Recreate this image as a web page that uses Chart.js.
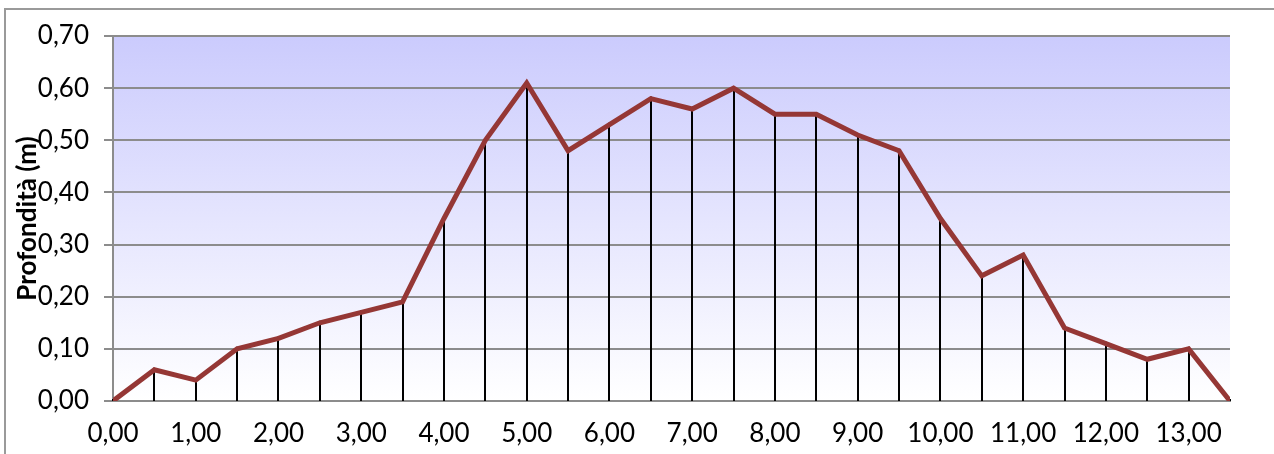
<!DOCTYPE html>
<html>
<head>
<meta charset="utf-8">
<script src="https://cdn.jsdelivr.net/npm/chart.js@4/dist/chart.umd.min.js"></script>
<style>
  html, body { margin: 0; padding: 0; background: #fff; }
  .frame {
    position: absolute; left: 4px; top: 8px; width: 1300px; height: 500px;
    border-left: 2px solid #9a9a9a; border-top: 2px solid #9a9a9a;
  }
  .chart-container { position: absolute; left: 0; top: 0; width: 1274px; height: 454px; }
</style>
</head>
<body>
<div class="frame"></div>
<div class="chart-container"><canvas id="profilo"></canvas></div>
<script>
// Distance (m) along the section and measured depth (m)
var distances = [0, 0.5, 1, 1.5, 2, 2.5, 3, 3.5, 4, 4.5, 5, 5.5, 6, 6.5, 7,
  7.5, 8, 8.5, 9, 9.5, 10, 10.5, 11, 11.5, 12, 12.5, 13, 13.5];
var depths = [0.00, 0.06, 0.04, 0.10, 0.12, 0.15, 0.17, 0.19, 0.35, 0.50, 0.61, 0.48, 0.53, 0.58, 0.56,
  0.60, 0.55, 0.55, 0.51, 0.48, 0.35, 0.24, 0.28, 0.14, 0.11, 0.08, 0.10, 0.00];
var xTicks = [0, 1, 2, 3, 4, 5, 6, 7, 8, 9, 10, 11, 12, 13];
var yTicks = [0, 0.1, 0.2, 0.3, 0.4, 0.5, 0.6, 0.7];
var yTitle = 'Profondità (m)';

function fmt(v) {
  return Number(v).toFixed(2).replace('.', ',');
}

// gradient background of the plot area
var plotBackground = {
  id: 'plotBackground',
  beforeDraw: function (chart) {
    var a = chart.chartArea;
    var ctx = chart.ctx;
    var g = ctx.createLinearGradient(0, a.top, 0, a.bottom);
    g.addColorStop(0, '#cbcbfd');
    g.addColorStop(1, '#ffffff');
    ctx.save();
    ctx.fillStyle = g;
    ctx.fillRect(a.left, a.top, a.right - a.left, a.bottom - a.top);
    ctx.restore();
  }
};

// vertical black lines from each point down to zero
var dropLines = {
  id: 'dropLines',
  beforeDatasetsDraw: function (chart) {
    var meta = chart.getDatasetMeta(0);
    var yScale = chart.scales.y;
    var base = yScale.getPixelForValue(0);
    var ctx = chart.ctx;
    ctx.save();
    ctx.strokeStyle = '#000';
    ctx.lineWidth = 2;
    meta.data.forEach(function (pt) {
      ctx.beginPath();
      ctx.moveTo(Math.round(pt.x), base);
      ctx.lineTo(Math.round(pt.x), pt.y - 2);
      ctx.stroke();
    });
    ctx.restore();
  }
};

var points = distances.map(function (d, i) { return { x: d, y: depths[i] }; });

var ctx = document.getElementById('profilo').getContext('2d');
new Chart(ctx, {
  type: 'line',
  data: {
    datasets: [{
      data: points,
      borderColor: '#953735',
      borderWidth: 5,
      pointRadius: 0,
      tension: 0,
      fill: false
    }]
  },
  plugins: [plotBackground, dropLines],
  options: {
    responsive: true,
    maintainAspectRatio: false,
    animation: false,
    layout: { padding: { top: 36, right: 44, left: 0, bottom: 0 } },
    plugins: { legend: { display: false }, tooltip: { enabled: false } },
    scales: {
      x: {
        type: 'linear',
        min: 0,
        max: 13.5,
        afterBuildTicks: function (scale) {
          scale.ticks = xTicks.map(function (v) { return { value: v }; });
        },
        afterFit: function (scale) { scale.height = 53; },
        ticks: {
          autoSkip: false,
          padding: 17,
          maxRotation: 0,
          color: '#000',
          font: { family: 'Lato', size: 26 },
          callback: function (v) { return fmt(v); }
        },
        grid: { display: false, drawTicks: false },
        border: { color: '#8c8c8c', width: 2 }
      },
      y: {
        min: 0,
        max: 0.7,
        afterBuildTicks: function (scale) {
          scale.ticks = yTicks.map(function (v) { return { value: v }; });
        },
        afterFit: function (scale) { scale.width = 113; },
        ticks: {
          padding: 15,
          color: '#000',
          font: { family: 'Lato', size: 26 },
          callback: function (v) { return fmt(v); }
        },
        grid: { color: '#8c8c8c', lineWidth: 2, tickLength: 9 },
        border: { color: '#8c8c8c', width: 2 },
        title: {
          display: true,
          text: yTitle,
          color: '#000',
          font: { family: 'Lato', size: 26, weight: 'bold' },
          padding: { top: 12, bottom: 0 }
        }
      }
    }
  }
});
</script>
</body>
</html>
